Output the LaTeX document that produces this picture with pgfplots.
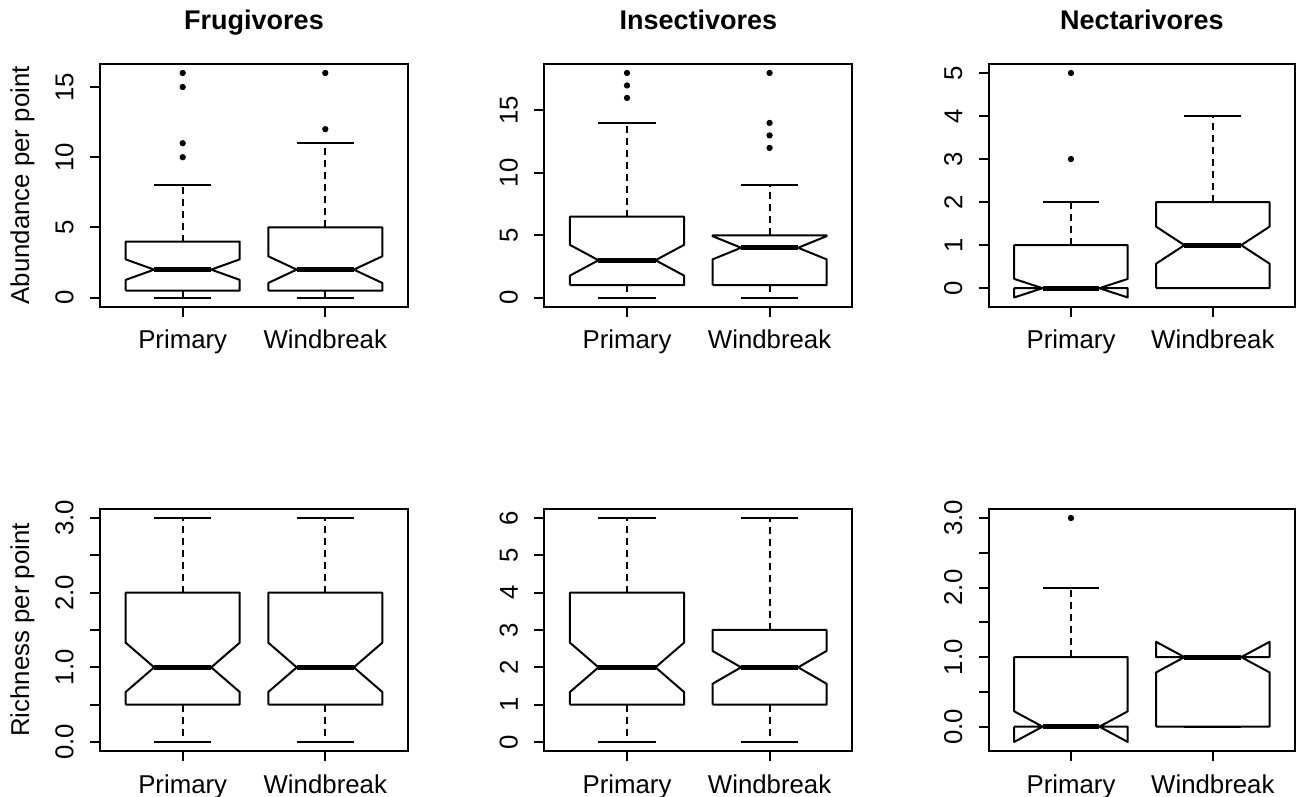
\documentclass[border=0pt]{standalone}
\usepackage{fontspec}
\setmainfont{Liberation Sans}
\usepackage{pgfplots}
\pgfplotsset{compat=1.18}

\newcommand\nbox[8]{% #1 centre, #2 min, #3 Q1, #4 notch low, #5 median, #6 notch high, #7 Q3, #8 max
  \pgfmathsetmacro\xa{#1-0.4}%
  \pgfmathsetmacro\xb{#1-0.2}%
  \pgfmathsetmacro\xd{#1+0.2}%
  \pgfmathsetmacro\xe{#1+0.4}%
  \edef\nboxtmp{%
    \noexpand\addplot[whisk] coordinates {(#1,#7) (#1,#8)};
    \noexpand\addplot[whisk] coordinates {(#1,#3) (#1,#2)};
    \noexpand\addplot[boxl] coordinates {(\xb,#8) (\xd,#8)};
    \noexpand\addplot[boxl] coordinates {(\xb,#2) (\xd,#2)};
    \noexpand\addplot[boxl] coordinates {(\xa,#3) (\xe,#3) (\xe,#4) (\xd,#5) (\xe,#6) (\xe,#7) (\xa,#7) (\xa,#6) (\xb,#5) (\xa,#4) (\xa,#3)};
    \noexpand\addplot[medl] coordinates {(\xb,#5) (\xd,#5)};
  }\nboxtmp}

\pgfplotsset{
  boxl/.style={black, line width=1pt, line join=round},
  medl/.style={black, line width=2.5pt},
  whisk/.style={black, line width=1pt, dash pattern=on 3.5pt off 2.5pt},
  outl/.style={black, only marks, mark=*, mark size=1.35pt},
  rbox/.style={
    scale only axis, width=154pt, height=121.3pt,
    anchor=south west,
    xmin=0.42, xmax=2.58,
    xtick={1,2}, xticklabels={Primary,Windbreak},
    tick align=outside, tick pos=left, major tick length=5pt,
    axis line style={line width=1pt},
    every tick/.style={black, line width=1pt},
    tick label style={font=\fontsize{12.9}{14}\selectfont, inner sep=0pt},
    xticklabel style={anchor=north},
    yticklabel style={rotate=90, anchor=south},
    xticklabel shift=6.5pt, yticklabel shift=8pt,
    title style={font=\fontsize{13.5}{15}\selectfont\bfseries, at={(axis description cs:0.5,1)}, anchor=base, yshift=11pt},
    every axis y label/.style={font=\fontsize{12.9}{14}\selectfont, at={(axis description cs:-0.19,0.5)}, rotate=90, anchor=south},
  },
}

\begin{document}
\begin{tikzpicture}
\useasboundingbox (0,0) rectangle (648pt,398.5pt);

% ---------- Abundance, Frugivores
\begin{axis}[rbox, at={(50pt,245.15pt)}, height=121.35pt,
  ymin=-0.64, ymax=16.64, ytick={0,5,10,15}, yticklabels={0,5,10,15},
  title={Frugivores}, ylabel={Abundance per point}]
\nbox{1}{0}{0.5}{1.27}{2}{2.73}{4}{8}
\nbox{2}{0}{0.5}{1.05}{2}{2.95}{5}{11}
\addplot[outl] coordinates {(1,10) (1,11) (1,15) (1,16) (2,12) (2,16)};
\end{axis}

% ---------- Abundance, Insectivores
\begin{axis}[rbox, at={(272.15pt,245.15pt)}, height=121.35pt,
  ymin=-0.72, ymax=18.72, ytick={0,5,10,15}, yticklabels={0,5,10,15},
  title={Insectivores}]
\nbox{1}{0}{1}{1.77}{3}{4.23}{6.5}{14}
\nbox{2}{0}{1}{3.07}{4}{4.93}{5}{9}
\addplot[outl] coordinates {(1,16) (1,17) (1,18) (2,12) (2,13) (2,14) (2,18)};
\end{axis}

% ---------- Abundance, Nectarivores
\begin{axis}[rbox, at={(494.35pt,245.15pt)}, height=121.35pt, width=153.2pt,
  ymin=-0.43, ymax=5.21, ytick={0,1,2,3,4,5}, yticklabels={0,1,2,3,4,5},
  title={Nectarivores}]
\nbox{1}{0}{0}{-0.215}{0}{0.215}{1}{2}
\nbox{2}{0}{0}{0.57}{1}{1.43}{2}{4}
\addplot[outl] coordinates {(1,3) (1,5)};
\end{axis}

% ---------- Richness, Frugivores
\begin{axis}[rbox, at={(50pt,23pt)}, height=121pt,
  ymin=-0.12, ymax=3.12, ytick={0,0.5,1,1.5,2,2.5,3}, yticklabels={0.0,,1.0,,2.0,,3.0},
  ylabel={Richness per point}]
\nbox{1}{0}{0.5}{0.67}{1}{1.33}{2}{3}
\nbox{2}{0}{0.5}{0.67}{1}{1.33}{2}{3}
\end{axis}

% ---------- Richness, Insectivores
\begin{axis}[rbox, at={(272.15pt,23pt)}, height=121pt,
  ymin=-0.24, ymax=6.24, ytick={0,1,2,3,4,5,6}, yticklabels={0,1,2,3,4,5,6}]
\nbox{1}{0}{1}{1.34}{2}{2.66}{4}{6}
\nbox{2}{0}{1}{1.56}{2}{2.44}{3}{6}
\end{axis}

% ---------- Richness, Nectarivores
\begin{axis}[rbox, at={(494.35pt,23pt)}, height=121pt, width=153.2pt,
  ymin=-0.35, ymax=3.13, ytick={0,0.5,1,1.5,2,2.5,3}, yticklabels={0.0,,1.0,,2.0,,3.0}]
\nbox{1}{0}{0}{-0.22}{0}{0.22}{1}{2}
\nbox{2}{0}{0}{0.78}{1}{1.22}{1}{1}
\addplot[outl] coordinates {(1,3)};
\end{axis}
\end{tikzpicture}
\end{document}
